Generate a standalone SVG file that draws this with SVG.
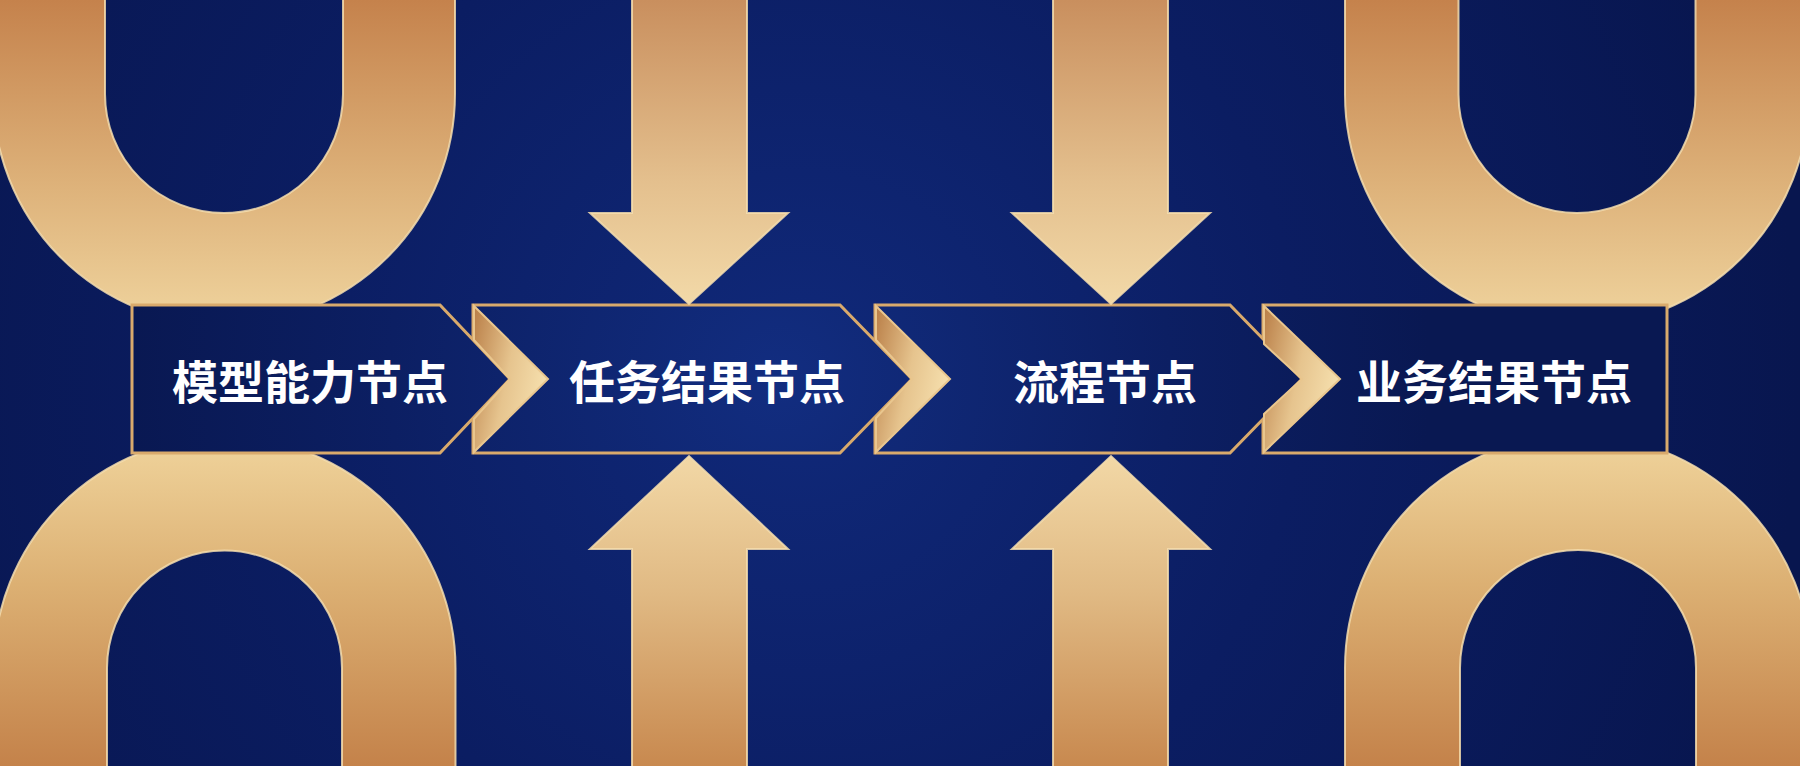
<svg xmlns="http://www.w3.org/2000/svg" width="1800" height="766" viewBox="0 0 1800 766">
  <defs>
    <radialGradient id="bg" cx="800" cy="380" r="1000" gradientUnits="userSpaceOnUse">
      <stop offset="0" stop-color="#10297a"/>
      <stop offset="0.5" stop-color="#0b1d62"/>
      <stop offset="1" stop-color="#08164f"/>
    </radialGradient>
    <radialGradient id="boxfill" cx="780" cy="379" r="650" gradientUnits="userSpaceOnUse">
      <stop offset="0" stop-color="#122d80"/>
      <stop offset="0.6" stop-color="#0c1f63"/>
      <stop offset="1" stop-color="#091852"/>
    </radialGradient>
    <linearGradient id="goldTop" x1="0" y1="0" x2="0" y2="330" gradientUnits="userSpaceOnUse">
      <stop offset="0" stop-color="#c5824c"/>
      <stop offset="0.55" stop-color="#ddb179"/>
      <stop offset="1" stop-color="#f0d59f"/>
    </linearGradient>
    <linearGradient id="goldBot" x1="0" y1="436" x2="0" y2="766" gradientUnits="userSpaceOnUse">
      <stop offset="0" stop-color="#f0d49c"/>
      <stop offset="0.45" stop-color="#dcb073"/>
      <stop offset="1" stop-color="#c4824a"/>
    </linearGradient>
    <linearGradient id="arrowTop" x1="0" y1="0" x2="0" y2="305" gradientUnits="userSpaceOnUse">
      <stop offset="0" stop-color="#c98f5e"/>
      <stop offset="0.6" stop-color="#e4c08e"/>
      <stop offset="1" stop-color="#f2d9a8"/>
    </linearGradient>
    <linearGradient id="arrowBot" x1="0" y1="455" x2="0" y2="766" gradientUnits="userSpaceOnUse">
      <stop offset="0" stop-color="#f2d8a6"/>
      <stop offset="0.45" stop-color="#e0b983"/>
      <stop offset="1" stop-color="#c8894f"/>
    </linearGradient>
    <linearGradient id="chev" x1="0" y1="0" x2="1" y2="0.4">
      <stop offset="0" stop-color="#b97e47"/>
      <stop offset="0.55" stop-color="#e6c48e"/>
      <stop offset="1" stop-color="#f5deac"/>
    </linearGradient>
    <style>
      .goldT { fill: url(#goldTop); stroke: #f4ddae; stroke-width: 2; stroke-opacity: 0.85; }
      .goldB { fill: url(#goldBot); stroke: #f4ddae; stroke-width: 2; stroke-opacity: 0.85; }
      .arrT { fill: url(#arrowTop); stroke: #f4ddae; stroke-width: 2; stroke-opacity: 0.85; }
      .arrB { fill: url(#arrowBot); stroke: #f4ddae; stroke-width: 2; stroke-opacity: 0.85; }
      .box { fill: url(#boxfill); stroke: #d9aa6c; stroke-width: 3; stroke-linejoin: miter; }
      .chev { fill: url(#chev); stroke: #e9c68e; stroke-width: 2; stroke-linejoin: miter; }
      .label { font-family: "Noto Sans CJK SC", "Noto Sans", sans-serif; font-weight: 700; font-size: 46px; fill: #ffffff; text-anchor: middle; dominant-baseline: central; }
    </style>
  </defs>

  <rect x="0" y="0" width="1800" height="766" fill="url(#bg)"/>

  <g id="decor">
    <path class="goldT" d="M -7 -10 L -7 94 A 231 231 0 0 0 455 94 L 455 -10 L 343 -10 L 343 94 A 119 119 0 0 1 105 94 L 105 -10 Z"/>
    <path class="goldT" d="M 1345 -10 L 1345 94.5 A 232 232 0 0 0 1809 94.5 L 1809 -10 L 1695.5 -10 L 1695.5 94.5 A 118.5 118.5 0 0 1 1458.5 94.5 L 1458.5 -10 Z"/>
    <path class="goldB" d="M -6.5 776 L -6.5 668 A 231 231 0 0 1 455.5 668 L 455.5 776 L 342 776 L 342 668 A 117.5 117.5 0 0 0 107 668 L 107 776 Z"/>
    <path class="goldB" d="M 1345 776 L 1345 668 A 233 233 0 0 1 1811 668 L 1811 776 L 1696 776 L 1696 668 A 118 118 0 0 0 1460 668 L 1460 776 Z"/>
  </g>

  <g id="nodes">
    <g id="node4">
      <rect class="box" x="1263" y="305" width="404" height="148"/>
      <text class="label" x="1494" y="379">业务结果节点</text>
    </g>
    <g id="node3">
      <polygon class="box" points="875,305 1230,305 1302,379 1230,453 875,453"/>
      <text class="label" x="1105" y="379">流程节点</text>
    </g>
    <g id="node2">
      <polygon class="box" points="473,305 840,305 912,379 840,453 473,453"/>
      <text class="label" x="707" y="379">任务结果节点</text>
    </g>
    <g id="node1">
      <polygon class="box" points="132,305 440,305 510,379 440,453 132,453"/>
      <text class="label" x="310" y="379">模型能力节点</text>
    </g>
  </g>

  <g id="connectors">
    <polygon class="chev" points="474,306 548,379 474,452 474,419 510,379 474,340"/>
    <polygon class="chev" points="876,306 950,379 876,452 876,418 912,379 876,340"/>
    <polygon class="chev" points="1264,306 1340,379 1264,452 1264,414 1302,379 1264,344"/>

    <polygon class="arrT" points="632,-10 747,-10 747,213 788,213 689,304 590,213 632,213"/>
    <polygon class="arrT" points="1053,-10 1168,-10 1168,213 1210,213 1111,304 1012,213 1053,213"/>
    <polygon class="arrB" points="632,776 747,776 747,549 788,549 689,456 590,549 632,549"/>
    <polygon class="arrB" points="1053,776 1168,776 1168,549 1210,549 1111,456 1012,549 1053,549"/>
  </g>
</svg>
